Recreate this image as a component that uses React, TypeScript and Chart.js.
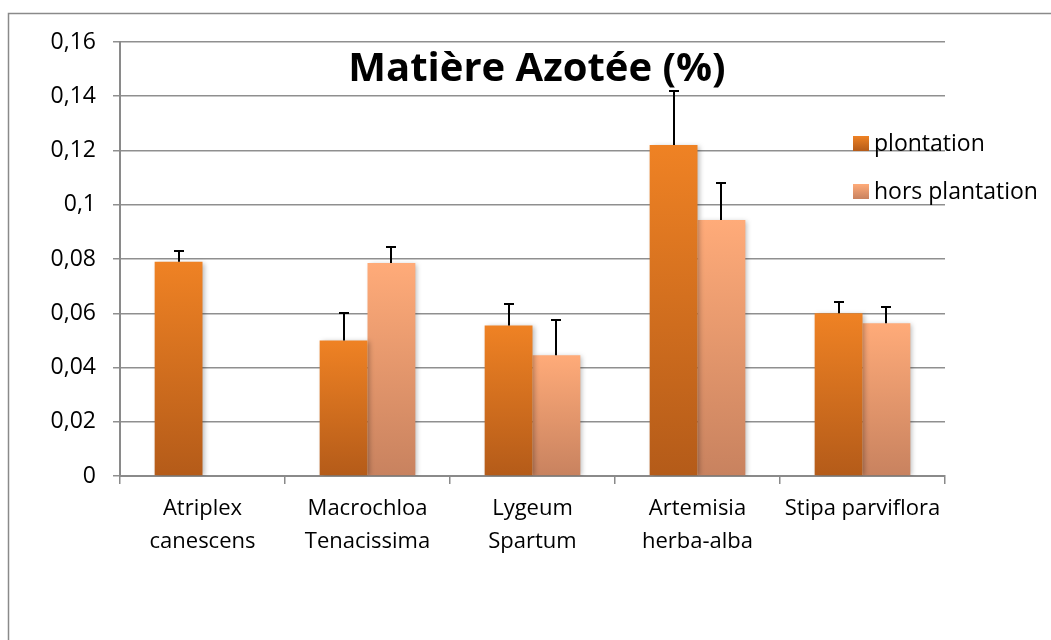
import React, { useEffect, useRef } from "react";
import { Chart, registerables } from "chart.js";

Chart.register(...registerables);

const categories: string[][] = [
  ["Atriplex", "canescens"],
  ["Macrochloa", "Tenacissima"],
  ["Lygeum", "Spartum"],
  ["Artemisia", "herba-alba"],
  ["Stipa parviflora"],
];
const seriesNames = ["plontation", "hors plantation"];
const plontation = [0.079, 0.05, 0.0555, 0.122, 0.06];
const plontationErr = [0.004, 0.01, 0.008, 0.02, 0.004];
const horsPlantation: (number | null)[] = [null, 0.0785, 0.0445, 0.0944, 0.0563];
const horsPlantationErr = [0, 0.006, 0.013, 0.0137, 0.006];
const yTickLabels = ["0", "0,02", "0,04", "0,06", "0,08", "0,1", "0,12", "0,14", "0,16"];
const title = "Matière Azotée (%)";

const FONT = "'Open Sans', 'Noto Sans', sans-serif";
const palettes = [
  { top: "#EF8224", bottom: "#B45B19" },
  { top: "#FFAB79", bottom: "#C8825F" },
];

function barGradient(ctx: any, idx: number) {
  const chart = ctx.chart;
  const area = chart.chartArea;
  const pal = palettes[idx];
  if (!area || !chart.scales || !chart.scales.y || ctx.raw == null) return pal.top;
  const y = chart.scales.y;
  const top = y.getPixelForValue(ctx.raw as number);
  const bottom = y.getPixelForValue(0);
  if (!isFinite(top) || !isFinite(bottom) || top === bottom) return pal.top;
  const g = chart.ctx.createLinearGradient(0, top, 0, bottom);
  g.addColorStop(0, pal.top);
  g.addColorStop(1, pal.bottom);
  return g;
}

const framePlugin = {
  id: "frame",
  beforeDraw(chart: any) {
    const c = chart.ctx;
    c.save();
    c.strokeStyle = "#8a8a8a";
    c.lineWidth = 1.5;
    c.beginPath();
    c.moveTo(8.5, 640);
    c.lineTo(8.5, 13.5);
    c.lineTo(1051, 13.5);
    c.stroke();
    c.restore();
  },
};

const shadowPlugin = {
  id: "barShadow",
  beforeDatasetsDraw(chart: any) {
    const c = chart.ctx;
    c.save();
    c.shadowColor = "rgba(0,0,0,0.28)";
    c.shadowBlur = 5;
    c.shadowOffsetX = 2;
    c.shadowOffsetY = 1;
  },
  afterDatasetsDraw(chart: any) {
    chart.ctx.restore();
  },
};

const errorPlugin = {
  id: "errorBars",
  afterDatasetsDraw(chart: any) {
    const c = chart.ctx;
    const y = chart.scales.y;
    const errs = [plontationErr, horsPlantationErr];
    c.save();
    c.strokeStyle = "#000";
    c.lineWidth = 2;
    chart.data.datasets.forEach((ds: any, di: number) => {
      const meta = chart.getDatasetMeta(di);
      meta.data.forEach((bar: any, i: number) => {
        const v = ds.data[i];
        if (v == null) return;
        const e = errs[di][i];
        const x = Math.round(bar.x);
        const yTop = Math.round(y.getPixelForValue(v + e));
        const yBar = y.getPixelForValue(v);
        c.beginPath();
        c.moveTo(x, yBar);
        c.lineTo(x, yTop);
        c.moveTo(x - 5, yTop);
        c.lineTo(x + 5, yTop);
        c.stroke();
      });
    });
    c.restore();
  },
};

const titleLegendPlugin = {
  id: "titleLegend",
  afterDraw(chart: any) {
    const c = chart.ctx;
    c.save();
    c.fillStyle = "#000";
    c.font = `bold 40px ${FONT}`;
    c.textAlign = "center";
    c.textBaseline = "alphabetic";
    c.fillText(title, 537, 81);

    c.font = `23px ${FONT}`;
    c.textAlign = "left";
    const items = [
      { y: 136, base: 151 },
      { y: 184, base: 199 },
    ];
    items.forEach((it, i) => {
      const g = c.createLinearGradient(0, it.y, 0, it.y + 15);
      g.addColorStop(0, palettes[i].top);
      g.addColorStop(1, palettes[i].bottom);
      c.fillStyle = g;
      c.fillRect(853, it.y, 16, 15);
      c.fillStyle = "#000";
      c.fillText(seriesNames[i], 874, it.base);
    });
    c.restore();
  },
};

export default function App() {
  const ref = useRef<HTMLCanvasElement>(null);
  useEffect(() => {
    if (!ref.current) return;
    const chart = new Chart(ref.current, {
      type: "bar",
      data: {
        labels: categories,
        datasets: [
          {
            label: seriesNames[0],
            data: plontation,
            backgroundColor: (ctx: any) => barGradient(ctx, 0),
            barPercentage: 1,
            categoryPercentage: 0.58,
          },
          {
            label: seriesNames[1],
            data: horsPlantation,
            backgroundColor: (ctx: any) => barGradient(ctx, 1),
            barPercentage: 1,
            categoryPercentage: 0.58,
          },
        ],
      },
      options: {
        responsive: false,
        animation: false,
        layout: { padding: { left: 0, top: 42, right: 106, bottom: 0 } },
        plugins: {
          legend: { display: false },
          title: { display: false },
          tooltip: { enabled: false },
        },
        scales: {
          x: {
            afterFit(scale: any) {
              scale.height = 164;
            },
            grid: {
              offset: true,
              drawOnChartArea: false,
              drawTicks: true,
              tickLength: 8,
              color: "#8a8a8a",
              lineWidth: 1.5,
            },
            border: { color: "#8a8a8a", width: 2 },
            ticks: {
              color: "#000",
              font: { family: FONT, size: 22, lineHeight: 1.5 },
              padding: 8,
              maxRotation: 0,
              autoSkip: false,
            },
          },
          y: {
            min: 0,
            max: 0.16,
            afterFit(scale: any) {
              scale.width = 120;
            },
            ticks: {
              stepSize: 0.02,
              color: "#000",
              font: { family: FONT, size: 23 },
              padding: 17,
              callback: (_v: any, i: number) => yTickLabels[i],
            },
            grid: {
              color: "#8f8f8f",
              lineWidth: 1.5,
              tickLength: 7,
            },
            border: { color: "#8a8a8a", width: 2 },
          },
        },
      },
      plugins: [framePlugin, shadowPlugin, errorPlugin, titleLegendPlugin],
    } as any);
    return () => chart.destroy();
  }, []);
  return (
    <div style={{ position: "fixed", left: 0, top: 0, width: 1051, height: 640, background: "#fff" }}>
      <canvas ref={ref} width={1051} height={640} style={{ width: 1051, height: 640 }} />
    </div>
  );
}
